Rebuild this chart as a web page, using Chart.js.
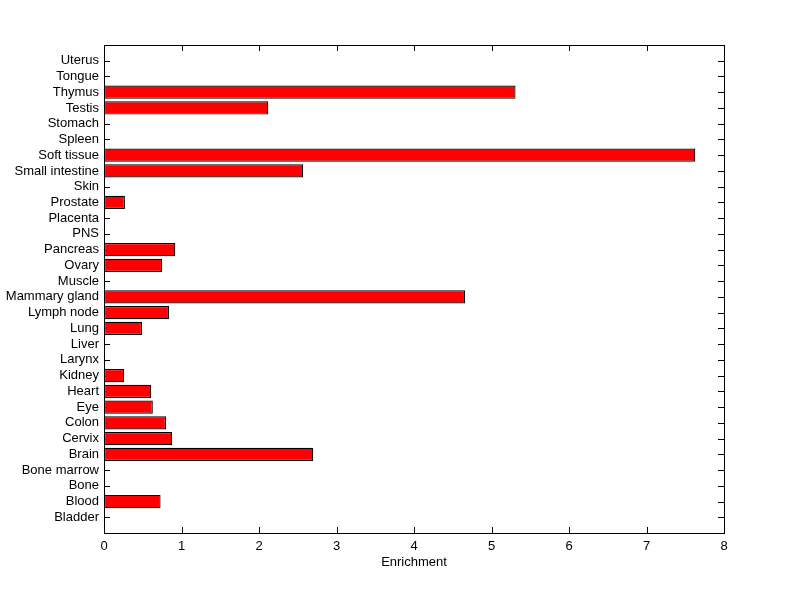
<!DOCTYPE html>
<html>
<head>
<meta charset="utf-8">
<script src="https://cdn.jsdelivr.net/npm/chart.js@4"></script>
<style>
  html, body { margin: 0; padding: 0; background: #fff; }
  #wrap { width: 800px; height: 599px; }
</style>
</head>
<body>
<div id="wrap"><canvas id="enrichChart" width="800" height="599"></canvas></div>
<script>
// categories from bottom (position 1) to top (position 30)
const tissues = ['Bladder','Blood','Bone','Bone marrow','Brain','Cervix','Colon','Eye','Heart','Kidney',
  'Larynx','Liver','Lung','Lymph node','Mammary gland','Muscle','Ovary','Pancreas','PNS','Placenta',
  'Prostate','Skin','Small intestine','Soft tissue','Spleen','Stomach','Testis','Thymus','Tongue','Uterus'];
const enrichment = [0, 0.73, 0, 0, 2.70, 0.88, 0.80, 0.63, 0.61, 0.26,
  0, 0, 0.49, 0.84, 4.66, 0, 0.75, 0.92, 0, 0,
  0.27, 0, 2.57, 7.63, 0, 0, 2.12, 5.31, 0, 0];
const xTicks = [0, 1, 2, 3, 4, 5, 6, 7, 8];

const FONT = { family: '"Liberation Sans", Arial, sans-serif', size: 13 };

// MATLAB-like axes: inward ticks under the bars, box on top
const boxTicks = {
  id: 'boxTicks',
  beforeDatasetsDraw(chart) {
    const { ctx, chartArea: a, scales } = chart;
    const len = 6;
    ctx.save();
    ctx.strokeStyle = '#000';
    ctx.lineWidth = 1;
    ctx.beginPath();
    xTicks.forEach(v => {
      const px = Math.round(scales.x.getPixelForValue(v)) + 0.5;
      ctx.moveTo(px, a.bottom); ctx.lineTo(px, a.bottom - len);
      ctx.moveTo(px, a.top); ctx.lineTo(px, a.top + len);
    });
    tissues.forEach((t, i) => {
      const py = Math.round(scales.y.getPixelForValue(i + 1)) + 0.5;
      ctx.moveTo(a.left, py); ctx.lineTo(a.left + len, py);
      ctx.moveTo(a.right, py); ctx.lineTo(a.right - len, py);
    });
    ctx.stroke();
    ctx.restore();
  },
  afterDatasetsDraw(chart) {
    const { ctx, chartArea: a } = chart;
    ctx.save();
    ctx.strokeStyle = '#000';
    ctx.lineWidth = 1;
    ctx.strokeRect(Math.round(a.left) + 0.5, Math.round(a.top) + 0.5,
      Math.round(a.right - a.left), Math.round(a.bottom - a.top));
    ctx.restore();
  }
};

new Chart(document.getElementById('enrichChart'), {
  type: 'bar',
  data: {
    datasets: [{
      data: tissues.map((t, i) => ({ x: enrichment[i], y: i + 1 })),
      backgroundColor: '#ff0000',
      borderColor: '#000000',
      borderWidth: 1.2,
      borderSkipped: false,
      categoryPercentage: 1,
      barPercentage: 0.84
    }]
  },
  options: {
    indexAxis: 'y',
    responsive: false,
    animation: false,
    layout: { padding: { top: 45, right: 76, left: 0, bottom: 29 } },
    plugins: { legend: { display: false }, tooltip: { enabled: false } },
    scales: {
      x: {
        type: 'linear', min: 0, max: 8,
        grid: { display: false, drawTicks: false },
        border: { display: false },
        ticks: { stepSize: 1, color: '#000', font: FONT, padding: 6 },
        title: { display: true, text: 'Enrichment', color: '#000', font: FONT, padding: 0 },
        afterFit(s) { s.height = 37; }
      },
      y: {
        type: 'linear', min: 0, max: 31, offset: false,
        grid: { display: false, drawTicks: false },
        border: { display: false },
        ticks: {
          stepSize: 1, autoSkip: false, color: '#000', font: FONT, padding: 5,
          callback: v => (v >= 1 && v <= tissues.length) ? tissues[v - 1] : ''
        },
        afterFit(s) { s.width = 104; }
      }
    }
  },
  plugins: [boxTicks]
});
</script>
</body>
</html>
